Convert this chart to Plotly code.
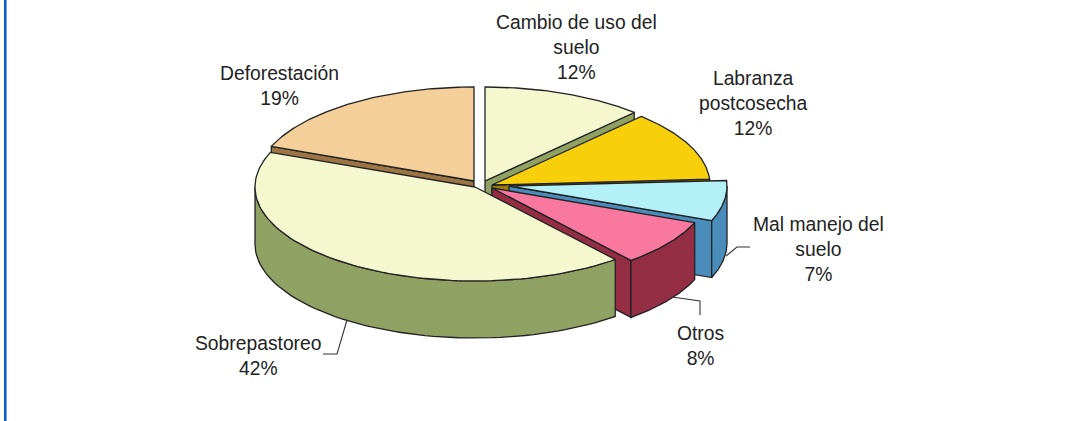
import numpy as np
import plotly.graph_objects as go

# --- data ---
categories = ["Cambio de uso del<br>suelo", "Labranza<br>postcosecha", "Mal manejo del<br>suelo",
              "Otros", "Sobrepastoreo", "Deforestación"]
values = [12, 12, 7, 8, 42, 19]

# --- styles / geometry (pixel space of the 1065x421 figure) ---
top_colors = ["#F5F8CF", "#F7CF0B", "#B3F0F7", "#F878A0", "#F5F8CF", "#F4CF9A"]
side_colors = ["#8FA264", "#9A7B0C", "#4A8DBA", "#932E45", "#8FA264", "#9B7546"]
centers_x = [485, 492, 509, 492, 475, 474]
centers_y = [181, 185, 186, 188, 187, 181]
radii_x = [218, 218, 218, 218, 220, 218]
visible_face = ["end", "end", "end", "end", None, "start"]
paint_order = [5, 0, 1, 2, 3, 4]
RY, DEPTH = 94, 57
EDGE = "#222222"
label_x = [576, 753, 818, 700, 258, 279]
label_y = [47, 103, 249, 346, 356, 86]
leader_x = [[726, 737, 750], [672, 700, 700], [347, 337, 323]]
leader_y = [[256, 247, 247], [297, 301, 315], [320, 354, 354]]

fig = go.Figure()


def poly(xs, ys, color):
    fig.add_trace(go.Scatter(x=xs, y=ys, mode="lines", fill="toself", fillcolor=color,
                             line=dict(color=EDGE, width=1.3), hoverinfo="skip", showlegend=False))


def edge(cx, cy, rx, deg):
    t = np.radians(deg)
    return cx + rx * np.sin(t), cy - RY * np.cos(t)


total = sum(values)
cum = np.cumsum([0] + values) / total * 360
for i in paint_order:
    a0, a1 = cum[i], cum[i + 1]
    cx, cy, rx = centers_x[i], centers_y[i], radii_x[i]
    # radial cut face
    if visible_face[i]:
        deg = a1 if visible_face[i] == "end" else a0
        ex, ey = edge(cx, cy, rx, deg)
        poly([cx, ex, ex, cx, cx], [cy, ey, ey + DEPTH, cy + DEPTH, cy], side_colors[i])
    # outer wall: the part of the rim facing the viewer
    w0, w1 = max(a0, 90), min(a1, 270)
    if w1 > w0:
        th = np.linspace(w0, w1, 60)
        ex, ey = edge(cx, cy, rx, th)
        poly(list(ex) + list(ex[::-1]) + [ex[0]],
             list(ey) + list(ey[::-1] + DEPTH) + [ey[0]], side_colors[i])
    # top face
    th = np.linspace(a0, a1, 100)
    ex, ey = edge(cx, cy, rx, th)
    poly([cx] + list(ex) + [cx], [cy] + list(ey) + [cy], top_colors[i])

for lx, ly in zip(leader_x, leader_y):
    fig.add_trace(go.Scatter(x=lx, y=ly, mode="lines", line=dict(color="#333333", width=1.1),
                             hoverinfo="skip", showlegend=False))

for name, v, x, y in zip(categories, values, label_x, label_y):
    fig.add_annotation(x=x, y=y, text=f"{name}<br>{v}%", showarrow=False, align="center",
                       xanchor="center", yanchor="middle",
                       font=dict(family="Liberation Sans", size=19.3, color="#222222"))

fig.add_shape(type="rect", x0=4, x1=6.6, y0=0, y1=421, fillcolor="#0B63C5", line_width=0, layer="below")

fig.update_layout(width=1065, height=421, margin=dict(l=0, r=0, t=0, b=0),
                  paper_bgcolor="white", plot_bgcolor="white", showlegend=False,
                  xaxis=dict(range=[0, 1065], visible=False, fixedrange=True),
                  yaxis=dict(range=[421, 0], visible=False, fixedrange=True))
fig.write_html("out.html", config={"displayModeBar": False},
               post_script="document.body.style.margin='0';document.body.style.overflow='hidden';")
